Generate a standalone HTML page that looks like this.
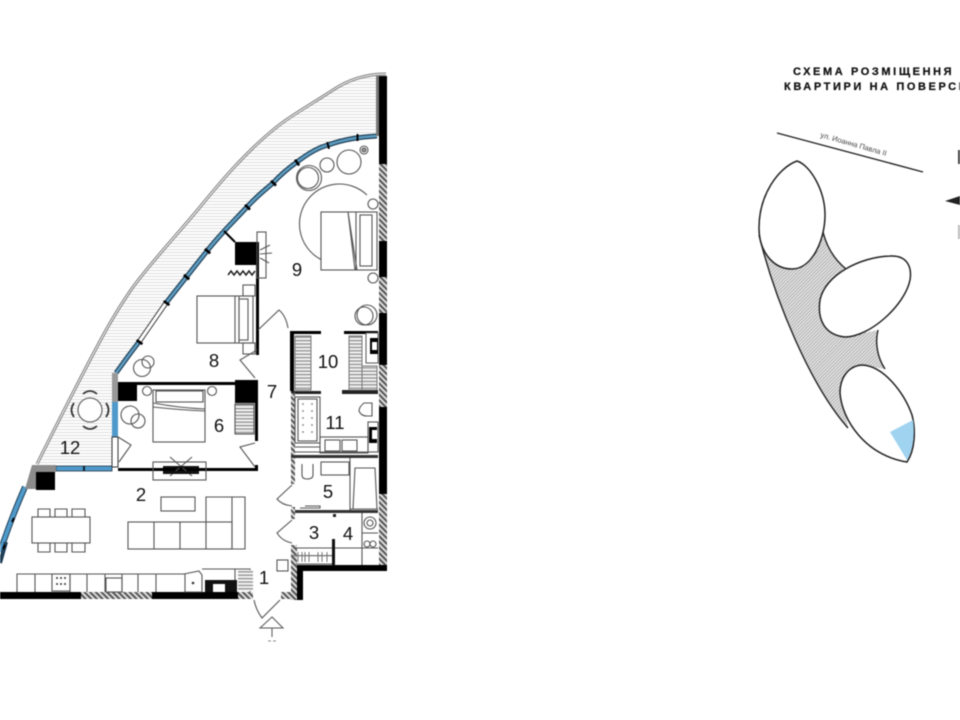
<!DOCTYPE html>
<html><head><meta charset="utf-8"><style>
html,body{margin:0;padding:0;background:#fff;width:960px;height:720px;overflow:hidden}
svg{display:block;filter:blur(.4px)}
text{font-family:"Liberation Sans",sans-serif}
.n{font-size:18.5px;fill:#111;text-anchor:middle}
.t{font-size:11px;font-weight:700;letter-spacing:2.6px;fill:#111;stroke:#111;stroke-width:.25}
.f{fill:none;stroke:#555;stroke-width:1.1}
.d{fill:none;stroke:#555;stroke-width:1.1}
.k{fill:#000}
</style></head><body>
<svg width="960" height="720" viewBox="0 0 960 720" xmlns="http://www.w3.org/2000/svg">
<defs>
<pattern id="bal" width="4" height="3" patternUnits="userSpaceOnUse"><rect width="4" height="3" fill="#fff"/><rect width="4" height="1" fill="#dcdcdc"/></pattern>
<pattern id="wh" width="4" height="4" patternUnits="userSpaceOnUse" patternTransform="rotate(-45)"><rect width="4" height="4" fill="#ddd"/><rect width="2" height="4" fill="#555"/></pattern>
<pattern id="sh" width="2.400" height="2.400" patternUnits="userSpaceOnUse" patternTransform="rotate(45)"><rect width="2.400" height="2.400" fill="#e6e6e6"/><rect width=".8" height="2.400" fill="#a0a0a0"/></pattern>
<pattern id="st" width="4" height="3.400" patternUnits="userSpaceOnUse"><rect width="4" height="3.400" fill="#f2f2f2"/><rect width="4" height="1.200" fill="#888"/></pattern>
</defs>

<!-- balcony -->
<path d="M378 75 C360 76 347 81 333 90 C310 105 290 116 273 130 C245 153 222 180 200 207 C176 236 153 260 133 287 C116 311 103 335 90 360 C70 398 54 430 37 464 L115 464 L115 373 C122 365 128 355 139 342 C148 328 157 316 166 303 C180 285 195 266 207 251 C222 232 235 220 247 207 C258 195 265 190 273 183 C282 173 290 167 297 162 C310 152 320 147 328 145 C345 139 360 137 378 137 Z" fill="url(#bal)"/>
<path d="M386 74 C365 74 348 80 333 90 C310 105 290 116 273 130 C245 153 222 180 200 207 C176 236 153 260 133 287 C116 311 103 335 90 360 C70 398 54 430 37 464" fill="none" stroke="#777" stroke-width="3"/>
<path d="M386 74 C365 74 348 80 333 90 C310 105 290 116 273 130 C245 153 222 180 200 207 C176 236 153 260 133 287 C116 311 103 335 90 360 C70 398 54 430 37 464" fill="none" stroke="#fff" stroke-width="1"/>

<!-- glazing -->
<path d="M377 136 C360 137 345 139 328 145 C320 147 310 152 297 162 C290 167 282 173 273 183 C265 190 258 195 247 207 C235 220 222 232 207 251 C195 266 180 285 166 303" fill="none" stroke="#1e3e55" stroke-width="5"/>
<path d="M377 136 C360 137 345 139 328 145 C320 147 310 152 297 162 C290 167 282 173 273 183 C265 190 258 195 247 207 C235 220 222 232 207 251 C195 266 180 285 166 303" fill="none" stroke="#5d9cc0" stroke-width="2.600"/>
<path d="M166 303 L139 342" stroke="#333" stroke-width="5" fill="none"/><path d="M166 303 L139 342" stroke="#fff" stroke-width="3" fill="none"/>
<path d="M139 342 C131 352 124 362 116 373" fill="none" stroke="#1e3e55" stroke-width="5"/>
<path d="M139 342 C131 352 124 362 116 373" fill="none" stroke="#5d9cc0" stroke-width="2.600"/>
<rect x="112" y="373" width="6" height="30" fill="#999"/>
<rect x="112" y="402" width="6" height="35" fill="#4f9acb"/>
<rect x="112" y="437" width="6" height="30" fill="#fff" stroke="#333" stroke-width="1"/>
<rect x="56" y="466" width="56" height="5" fill="#4f9acb" stroke="#234" stroke-width=".8"/>
<rect x="83" y="466" width="2" height="5" fill="#123"/>
<path d="M25 487 C17 505 9 525 0 552" fill="none" stroke="#1e3e55" stroke-width="6"/>
<path d="M25 487 C17 505 9 525 0 552" fill="none" stroke="#4f9acb" stroke-width="4"/>
<path d="M6 542 L0 563" stroke="#1e3e55" stroke-width="4"/>
<path d="M14 518l-2 4M5 545l-2 4" stroke="#000" stroke-width="2"/>
<polygon points="32,465 56,465 56,472 36,472 36,489 25,489" fill="#8c8c8c"/>
<g fill="#000">
<rect x="356.500" y="134" width="2" height="7"/><rect x="327" y="142" width="2" height="7" transform="rotate(-15 328 145)"/><rect x="295.500" y="159" width="2.500" height="7" transform="rotate(-35 297 162)"/><rect x="272" y="180" width="2.500" height="7" transform="rotate(-45 273 183)"/><rect x="246" y="204" width="2.500" height="7" transform="rotate(-45 247 207)"/><rect x="206" y="248" width="2.500" height="7" transform="rotate(-50 207 251)"/><rect x="185" y="274" width="2.500" height="7" transform="rotate(-50 186 277)"/><rect x="165" y="300" width="2.500" height="7" transform="rotate(-55 166 303)"/><rect x="138" y="339" width="2.500" height="7" transform="rotate(-55 139 342)"/></g>
<path d="M224 231 L235 242" stroke="#000" stroke-width="2"/>

<!-- outer walls -->
<rect class="k" x="379" y="76" width="8" height="494"/>
<rect x="376" y="76" width="3" height="60" fill="#777"/>
<rect x="379" y="164" width="8" height="77" fill="url(#wh)"/>
<rect x="379" y="277" width="8" height="36" fill="url(#wh)"/>
<rect x="379" y="365" width="8" height="42" fill="url(#wh)"/>
<rect x="379" y="494" width="8" height="71" fill="url(#wh)"/>
<rect class="k" x="297" y="565" width="90" height="6"/>
<rect class="k" x="297" y="565" width="6" height="35"/>
<rect class="k" x="0" y="592" width="81" height="7"/>
<rect x="81" y="592" width="71" height="7" fill="url(#wh)"/>
<rect class="k" x="152" y="592" width="86" height="7"/>
<rect x="238" y="592" width="15" height="7" fill="url(#wh)"/>
<rect x="281" y="592" width="16" height="7" fill="url(#wh)"/>
<rect x="291" y="545" width="6" height="55" fill="url(#wh)"/>

<!-- piers and inner walls -->
<rect class="k" x="235" y="242" width="24" height="23"/>
<rect class="k" x="118" y="383" width="19" height="18"/>
<rect class="k" x="235" y="380" width="23" height="23"/>
<rect class="k" x="36" y="472" width="19" height="18"/>
<rect class="k" x="118" y="382" width="117" height="3"/>
<rect class="k" x="256" y="265" width="3" height="90"/>
<rect class="k" x="255" y="403" width="3" height="38"/>
<rect class="k" x="118" y="468" width="140" height="3"/>
<rect class="k" x="255" y="465" width="3" height="6"/>
<rect class="k" x="290" y="331" width="31" height="3"/>
<rect class="k" x="344" y="331" width="34" height="3"/>
<rect class="k" x="290" y="331" width="4" height="60"/>
<rect x="291" y="391" width="30" height="3" fill="#222"/>
<rect x="342" y="390" width="36" height="4" fill="#222"/>
<rect x="291" y="393" width="4" height="91" fill="url(#wh)"/>
<rect x="291" y="455" width="87" height="3" fill="#333"/>
<rect x="293" y="510" width="85" height="3" fill="#333"/>
<rect x="291" y="507" width="4" height="12" fill="url(#wh)"/>
<rect x="332" y="539" width="3" height="27" fill="#111"/>

<!-- doors -->
<path class="d" d="M258 330 L279 310 Q286 316 288 328"/>
<path class="d" d="M257 350 L240 360 L255 378"/>
<path class="d" d="M255 443 L240 447 L255 467"/>
<path class="d" d="M292 485 L277 499 Q282 505 292 506"/>
<path class="d" d="M292 520 L277 533 Q282 541 292 543"/>
<path class="d" d="M254 600 Q256 610 262 618 L280 600"/>
<path class="d" d="M118 437 L131 445 L119 462"/>
<path d="M272 617 L260 628 H283 Z" fill="none" stroke="#555"/>
<path d="M272 628 V637" stroke="#555"/><path d="M268 641h3M273 641h3" stroke="#888"/>

<!-- room 9 -->
<g class="f">
<circle cx="309" cy="178" r="12.500"/><circle cx="308" cy="178" r="10.500"/>
<circle cx="327" cy="165" r="7"/><circle cx="349" cy="162" r="12"/>
<circle cx="364" cy="150" r="4"/><circle cx="364" cy="150" r="2" fill="#999"/>
<path d="M322 260 A40 40 0 1 1 367 195"/>
<circle cx="373" cy="204" r="5" fill="#fff"/><circle cx="373" cy="278" r="5"/>
<rect x="321" y="212" width="56" height="58" fill="#fff"/>
<path d="M348 212 L357 270 M356 212 L356 270 M348 212 L355 270"/>
<rect x="360" y="215" width="12" height="51"/>
<rect x="257" y="232" width="9" height="46"/>
<path d="M260 250 L270 245 M260 254 L272 253 M260 258 L269 263"/>
<circle cx="367" cy="315" r="10"/><circle cx="364" cy="316" r="9"/>
<!-- room 8 -->
<rect x="197" y="296" width="56" height="47"/>
<path d="M235 296 V343 M239 296 V343"/>
<rect x="239" y="299" width="9" height="41"/>
<rect x="243" y="285" width="12" height="11"/><rect x="243" y="343" width="12" height="11"/>
<circle cx="142" cy="368" r="8.500" fill="#fff"/><circle cx="148" cy="362" r="6"/>
</g>
<path d="M228 275 l3 -4 3 4 3 -4 3 4 3 -4 3 4 3 -4 3 4 3 -4" fill="none" stroke="#222" stroke-width="1.500"/>
<!-- room 6 -->
<g class="f">
<rect x="153" y="390" width="52" height="52"/>
<rect x="156" y="391" width="47" height="11"/>
<path d="M153 403 Q180 408 205 409 M153 407 Q180 410 205 411"/>
<circle cx="147" cy="391" r="4.500"/><circle cx="212" cy="391" r="4.500"/>
<circle cx="130" cy="415" r="9"/><circle cx="138" cy="421" r="7"/>
<rect x="235" y="404" width="19" height="30" fill="url(#st)"/>
<rect x="153" y="462" width="53" height="18"/>
<path d="M170 457 L192 476 M192 457 L170 476" />
</g>
<rect x="163" y="466" width="36" height="2" fill="#111"/><rect x="163" y="471" width="36" height="3" fill="#111"/>
<!-- balcony table -->
<circle cx="90" cy="410" r="12" fill="#fff" stroke="#555" stroke-width="1.100"/>
<path d="M83 394 Q90 388 97 394 M83 426 Q90 432 97 426 M74 403 Q69 410 74 417 M106 403 Q111 410 106 417" fill="none" stroke="#333" stroke-width="1.800"/>
<!-- living -->
<g class="f">
<rect x="32" y="517" width="58" height="26"/>
<path d="M38 517 V509 H50 V517 M55 517 V509 H67 V517 M72 517 V509 H85 V517 M38 543 V552 H50 V543 M55 543 V552 H67 V543 M72 543 V552 H85 V543"/>
<rect x="128" y="522" width="104" height="27"/>
<path d="M154 522 V549 M180 522 V549 M206 522 V549"/>
<path d="M206 522 V497 H245 V549 H232 M232 497 V549"/>
<rect x="161" y="497" width="34" height="14"/>
<!-- kitchen -->
<path d="M17 592 V574 H185 V592 M35 574 V592 M70 574 V592 M87 574 V592 M105 574 V592 M122 574 V592 M138 574 V592 M156 574 V592"/>
<rect x="52" y="574" width="18" height="17"/>
<rect x="106" y="578" width="16" height="14"/>
<path d="M184 574 L199 571 L202 575 V592 H184 M202 569 H250 V592 M235 569 V592"/>
<rect x="277" y="560" width="11" height="11"/>
</g>
<rect x="238" y="570" width="15" height="21" fill="url(#st)"/>
<rect x="205" y="580" width="32" height="12" fill="#111"/>
<rect x="213" y="584" width="12" height="8" fill="#fff"/>
<g fill="#333"><circle cx="193" cy="583" r="1.300"/><circle cx="57" cy="578" r="1"/><circle cx="61" cy="578" r="1"/><circle cx="65" cy="578" r="1"/><circle cx="57" cy="584" r="1"/><circle cx="61" cy="584" r="1"/><circle cx="65" cy="584" r="1"/></g>
<!-- wardrobes -->
<rect x="295" y="336" width="16" height="54" fill="url(#st)" stroke="#777"/>
<rect x="349" y="336" width="13" height="54" fill="url(#st)" stroke="#777"/>
<rect x="362" y="366" width="15" height="24" fill="url(#st)" stroke="#777"/>
<rect x="366" y="333" width="12" height="30" fill="#fff" stroke="#555"/>
<rect class="k" x="370" y="338" width="8" height="16"/><rect x="372" y="342" width="5" height="8" fill="#fff"/>
<!-- bath 11 -->
<g class="f">
<rect x="295" y="397" width="25" height="46"/><rect x="298" y="399" width="19" height="42"/>
<path d="M295 447 H320 M295 452 H378"/>
<rect x="320" y="437" width="48" height="16"/>
<rect x="325" y="440" width="15" height="11"/><rect x="342" y="440" width="15" height="11"/>
<path d="M372 403 h-8 q-5 4 -5 8 q2 5 8 5 h5 Z"/>
<rect x="368" y="422" width="10" height="30"/>
</g>
<rect class="k" x="369" y="427" width="8" height="16"/><rect x="372" y="430" width="5" height="9" fill="#fff"/>
<g fill="#777"><circle cx="303" cy="404" r=".9"/><circle cx="312" cy="404" r=".9"/><circle cx="303" cy="411" r=".9"/><circle cx="312" cy="411" r=".9"/><circle cx="303" cy="418" r=".9"/><circle cx="312" cy="418" r=".9"/><circle cx="303" cy="425" r=".9"/><circle cx="312" cy="425" r=".9"/><circle cx="303" cy="432" r=".9"/><circle cx="312" cy="432" r=".9"/></g>
<!-- bath 5 -->
<g class="f">
<rect x="321" y="462" width="28" height="13"/>
<path d="M302 464 v11 q0 4 5 4 q6 0 6 -4 v-11"/>
<path d="M350 458 V510 M353 509 L355 468 H375 L377 509 M350 509 H378"/>
<path d="M300 508 H320 V506 H305"/>
<!-- room 4/3 -->
<path d="M362 513 V565 M335 548 H378 M362 533 H378"/>
<circle cx="370" cy="523" r="6"/><circle cx="370" cy="523" r="3"/>
<circle cx="367" cy="544" r="3"/><circle cx="373" cy="544" r="3"/>
<path d="M296 548 H332 M296 564 H332"/>
</g>
<path d="M298 552v10M302 552v10M305 552v10M309 552v10M318 552v10M322 552v10M327 552v10" stroke="#777"/>
<rect x="292" y="555" width="40" height="1.300" fill="#777"/>
<rect x="333" y="514" width="3" height="3" fill="#222"/>
<!-- labels -->
<text class="n" x="297" y="276">9</text>
<text class="n" x="214" y="367">8</text>
<text class="n" x="272" y="398">7</text>
<text class="n" x="219" y="432">6</text>
<text class="n" x="328" y="368">10</text>
<text class="n" x="335" y="429">11</text>
<text class="n" x="70" y="454">12</text>
<text class="n" x="141" y="501">2</text>
<text class="n" x="328" y="498">5</text>
<text class="n" x="314" y="539">3</text>
<text class="n" x="348" y="540">4</text>
<text class="n" x="264" y="584">1</text>

<!-- right scheme -->
<text class="t" x="793" y="75">СХЕМА РОЗМІЩЕННЯ</text>
<text class="t" x="784" y="90">КВАРТИРИ НА ПОВЕРСІ</text>
<path d="M777 133 L923 172" stroke="#222" stroke-width="1.400"/>
<text transform="translate(820 137) rotate(16)" font-size="7.500" fill="#444">ул. Иоанна Павла II</text>
<path d="M759 235 C775 300 810 385 848 428 L842 392 L862 365 L885 369 C877 355 875 340 878 330 L845 337 L820 305 L845 268 C835 260 827 248 823 232 L792 269 Z" fill="url(#sh)"/>
<path d="M759 235 C775 300 810 385 848 428 M823 232 C827 248 835 260 846 269 M878 330 C875 342 877 357 885 369" fill="none" stroke="#222" stroke-width="1.400"/>
<path d="M797 161 C778 168 759 195 759 228 C759 250 772 269 792 269 C812 269 825 240 825 215 C825 190 810 165 797 161Z" fill="#fff" stroke="#222" stroke-width="1.500"/>
<path d="M890 256 C908 255 912 268 910 280 C905 305 870 337 845 337 C825 335 817 320 820 300 C825 275 860 257 890 256Z" fill="#fff" stroke="#222" stroke-width="1.500"/>
<path d="M862 365 C848 366 840 378 840 393 C842 420 865 455 907 462 C915 450 916 430 912 415 C905 395 885 366 862 365Z" fill="#fff" stroke="#222" stroke-width="1.500"/>
<path d="M890 432 L913 420 C915 435 913 450 907 460 Z" fill="#9fd3f0"/>
<path d="M945 201 L960 196 V205 Z" fill="#222"/>
<rect x="958" y="150" width="2" height="14" fill="#444"/>
<rect x="958" y="225" width="2" height="14" fill="#bbb"/>
</svg>
</body></html>
